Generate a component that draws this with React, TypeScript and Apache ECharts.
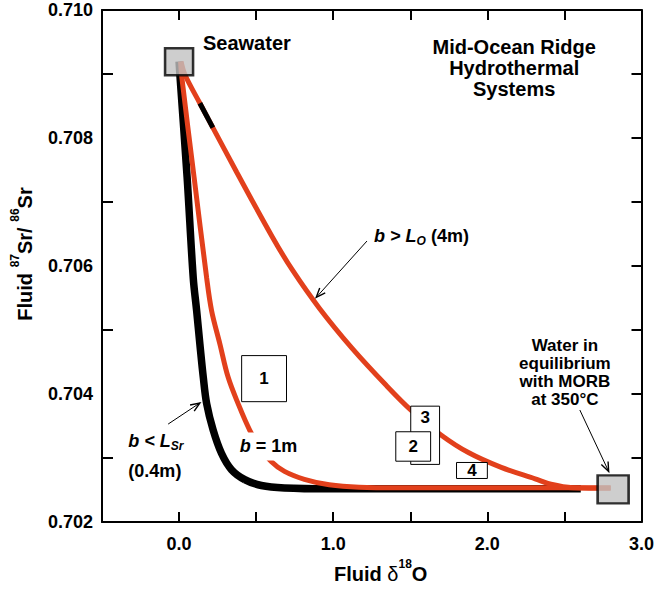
import React, { useEffect, useRef } from "react";
import * as echarts from "echarts";

const FONT = "'Liberation Sans', Arial, Helvetica, sans-serif";
const RED = "#e2401c";

// Axis ticks / labels
const xLabelValues = [0, 1, 2, 3];
const xTickValues = [0, 0.5, 1, 1.5, 2, 2.5];
const yLabelValues = [0.702, 0.704, 0.706, 0.708, 0.71];
const yTickLeftValues = [0.703, 0.705, 0.707, 0.709];
const yTickRightValues = [0.703, 0.704, 0.705, 0.706, 0.707, 0.708, 0.709];

// End members
const seawaterPoint = [0.0, 0.70919];
const morbPoint = [2.816, 0.70251];

// b < L_Sr (0.4 m) curve
const curveLsrX = [0.0, 0.006, 0.052, 0.092, 0.114, 0.135, 0.157, 0.179, 0.221, 0.275, 0.34, 0.426, 0.534, 0.684, 0.974, 2.606];
const curveLsrY = [0.709194, 0.708966, 0.707395, 0.705814, 0.705302, 0.70478, 0.704264, 0.70385, 0.703437, 0.703074, 0.702818, 0.702663, 0.70257, 0.702532, 0.702519, 0.702519];

// b = 1 m curve
const curve1mX = [0.01, 0.017, 0.097, 0.179, 0.211, 0.265, 0.318, 0.383, 0.458, 0.523, 0.598, 0.684, 0.813, 0.974, 1.168, 1.426, 2.8];
const curve1mY = [0.709194, 0.708966, 0.707395, 0.705814, 0.705302, 0.70478, 0.704264, 0.70385, 0.703437, 0.703178, 0.702946, 0.702791, 0.702667, 0.702581, 0.702543, 0.702535, 0.702535];

// b > L_O (4 m) curve
const curve4mX = [0.013, 0.039, 0.135, 0.219, 0.374, 0.606, 0.735, 0.91, 1.123, 1.342, 1.51, 1.697, 1.877, 2.09, 2.31, 2.413, 2.555, 2.8];
const curve4mY = [0.709194, 0.708984, 0.708543, 0.708163, 0.707465, 0.70645, 0.705938, 0.705341, 0.704713, 0.70414, 0.703736, 0.703364, 0.703085, 0.702853, 0.702674, 0.702589, 0.702535, 0.702527];

// black stretch on the 4 m curve
const overlap4mX = [0.135, 0.219];
const overlap4mY = [0.708543, 0.708163];

// numbered boxes (drawn in this order)
const boxLabels = ["1", "3", "2", "4"];
const boxX0 = [0.406, 1.503, 1.406, 1.8];
const boxX1 = [0.697, 1.69, 1.632, 2.0];
const boxY0 = [0.70388, 0.7029, 0.70295, 0.70268];
const boxY1 = [0.7046, 0.70381, 0.70341, 0.70293];
const boxLabelY = [0.70424, 0.70363, 0.70318, 0.7028];

// annotations (data coordinates)
const seawaterLabelPos = [0.155, 0.70949];
const titleLines = ["Mid-Ocean Ridge", "Hydrothermal", "Systems"];
const titlePos = [2.174, 0.70941];
const morbLines = ["Water in", "equilibrium", "with MORB", "at 350°C"];
const morbLabelPos = [2.503, 0.70476];
const label4mPos = [1.265, 0.70647];
const label1mPos = [0.394, 0.70318];
const labelLsrPos = [-0.329, 0.70326];
const labelLsr2Pos = [-0.329, 0.70279];
const arrow4m = [[1.219, 0.70639], [0.89, 0.70551]];
const arrowLsr = [[-0.071, 0.70353], [0.135, 0.70386]];
const arrowMorb = [[2.6, 0.70375], [2.787, 0.70279]];

const pairs = (xs: number[], ys: number[]) => xs.map((x, i) => [x, ys[i]]);

function arrowEls(from: number[], to: number[]) {
  const [x1, y1] = from;
  const [x2, y2] = to;
  const ang = Math.atan2(y2 - y1, x2 - x1);
  const L = 10;
  const a = 0.38;
  const h1 = [x2 - L * Math.cos(ang - a), y2 - L * Math.sin(ang - a)];
  const h2 = [x2 - L * Math.cos(ang + a), y2 - L * Math.sin(ang + a)];
  return [
    { type: "line", shape: { x1, y1, x2, y2 }, style: { stroke: "#000", lineWidth: 1 }, z: 100 },
    { type: "polyline", shape: { points: [h1, [x2, y2], h2] }, style: { stroke: "#000", lineWidth: 1.4, fill: null }, z: 100 },
  ];
}

export default function App() {
  const ref = useRef<HTMLDivElement>(null);
  useEffect(() => {
    if (!ref.current) return;
    const chart = echarts.init(ref.current, null, { renderer: "svg" });
    const lineStyleBase = { type: "line", symbol: "none", smooth: 0.35, silent: true };
    const axisCommonX = {
      type: "value",
      min: -0.5,
      max: 3.0,
      interval: 0.5,
      splitLine: { show: false },
      axisLine: { onZero: false, lineStyle: { color: "#000", width: 2 } },
      axisTick: { inside: true, length: 10, customValues: xTickValues, lineStyle: { color: "#000", width: 2 } },
    };
    const axisCommonY = {
      type: "value",
      min: 0.702,
      max: 0.71,
      interval: 0.001,
      splitLine: { show: false },
      axisLine: { onZero: false, lineStyle: { color: "#000", width: 2 } },
    };
    chart.setOption({
      animation: false,
      grid: { left: 102, right: 14, top: 10, bottom: 63, containLabel: false },
      xAxis: [
        {
          ...axisCommonX,
          position: "bottom",
          axisLabel: {
            customValues: xLabelValues,
            formatter: (v: number) => v.toFixed(1),
            fontFamily: FONT,
            fontSize: 18,
            fontWeight: "bold",
            color: "#000",
            margin: 13,
          },
          name: "{a|Fluid }{d|δ}{s|18}{a|O}",
          nameLocation: "middle",
          nameGap: 36,
          nameTextStyle: {
            padding: [0, 0, 0, 18],
            rich: {
              a: { fontFamily: FONT, fontSize: 20, fontWeight: "bold", color: "#000", lineHeight: 26, verticalAlign: "bottom" },
              d: { fontFamily: FONT, fontSize: 20, color: "#000", lineHeight: 26, verticalAlign: "bottom" },
              s: { fontFamily: FONT, fontSize: 12, fontWeight: "bold", color: "#000", lineHeight: 14, verticalAlign: "top" },
            },
          },
        },
        {
          ...axisCommonX,
          position: "top",
          axisLabel: { show: false },
        },
      ],
      yAxis: [
        {
          ...axisCommonY,
          position: "left",
          axisTick: { inside: true, length: 11, customValues: yTickLeftValues, lineStyle: { color: "#000", width: 2 } },
          axisLabel: {
            customValues: yLabelValues,
            formatter: (v: number) => v.toFixed(3),
            fontFamily: FONT,
            fontSize: 18,
            fontWeight: "bold",
            color: "#000",
            margin: 9,
          },
          name: "{a|Fluid }{s|87}{a|Sr/ }{s|86}{a|Sr}",
          nameLocation: "middle",
          nameGap: 67,
          nameTextStyle: {
            padding: [0, 0, 0, 24],
            rich: {
              a: { fontFamily: FONT, fontSize: 20, fontWeight: "bold", color: "#000", lineHeight: 26, verticalAlign: "bottom" },
              s: { fontFamily: FONT, fontSize: 12, fontWeight: "bold", color: "#000", lineHeight: 14, verticalAlign: "top" },
            },
          },
        },
        {
          ...axisCommonY,
          position: "right",
          axisTick: { inside: true, length: 10, customValues: yTickRightValues, lineStyle: { color: "#000", width: 2 } },
          axisLabel: { show: false },
        },
      ],
      series: [
        { ...lineStyleBase, name: "b < L_Sr (0.4m)", data: pairs(curveLsrX, curveLsrY), lineStyle: { color: "#000", width: 7.5 }, z: 2 },
        { ...lineStyleBase, name: "b = 1m", data: pairs(curve1mX, curve1mY), lineStyle: { color: RED, width: 5 }, z: 3 },
        { ...lineStyleBase, name: "b > L_O (4m)", data: pairs(curve4mX, curve4mY), lineStyle: { color: RED, width: 5 }, z: 3 },
        { ...lineStyleBase, smooth: false, name: "overlap", data: pairs(overlap4mX, overlap4mY), lineStyle: { color: "#000", width: 5 }, z: 4 },
        {
          type: "custom",
          name: "boxes",
          z: 5,
          silent: true,
          data: boxLabels.map((_, i) => [boxX0[i], boxX1[i], boxY0[i], boxY1[i], boxLabelY[i]]),
          renderItem: (params: any, api: any) => {
            const p0 = api.coord([api.value(0), api.value(3)]);
            const p1 = api.coord([api.value(1), api.value(2)]);
            const ly = api.coord([api.value(0), api.value(4)])[1];
            return {
              type: "group",
              children: [
                {
                  type: "rect",
                  shape: { x: p0[0], y: p0[1], width: p1[0] - p0[0], height: p1[1] - p0[1] },
                  style: { fill: "#fff", stroke: "#000", lineWidth: 1 },
                },
                {
                  type: "text",
                  style: {
                    text: boxLabels[params.dataIndex],
                    x: (p0[0] + p1[0]) / 2,
                    y: ly,
                    align: "center",
                    verticalAlign: "middle",
                    fontFamily: FONT,
                    fontSize: 17,
                    fontWeight: "bold",
                    fill: "#000",
                  },
                },
              ],
            };
          },
        },
        {
          type: "scatter",
          name: "Seawater",
          z: 6,
          silent: true,
          symbol: "rect",
          symbolSize: [28, 27],
          data: [seawaterPoint],
          itemStyle: { color: "#c2c2c2", borderColor: "#000", borderWidth: 2.5 },
        },
        {
          type: "scatter",
          name: "MORB",
          z: 6,
          silent: true,
          symbol: "rect",
          symbolSize: [31, 28],
          data: [morbPoint],
          itemStyle: { color: "#c2c2c2", borderColor: "#000", borderWidth: 2.5 },
        },
      ],
    });

    const px = (p: number[]) => chart.convertToPixel({ xAxisIndex: 0, yAxisIndex: 0 }, p) as number[];
    const baseText = { fontFamily: FONT, fontWeight: "bold", fill: "#000" };
    const ital = { fontFamily: FONT, fontWeight: "bold", fontStyle: "italic", fontSize: 18, fill: "#000", lineHeight: 22, verticalAlign: "middle" };
    const norm = { fontFamily: FONT, fontWeight: "bold", fontSize: 18, fill: "#000", lineHeight: 22, verticalAlign: "middle" };
    const sub = { fontFamily: FONT, fontWeight: "bold", fontStyle: "italic", fontSize: 12, fill: "#000", lineHeight: 12, verticalAlign: "bottom" };

    const sw = px(seawaterLabelPos);
    const tt = px(titlePos);
    const mb = px(morbLabelPos);
    const l4 = px(label4mPos);
    const l1 = px(label1mPos);
    const ls = px(labelLsrPos);
    const ls2 = px(labelLsr2Pos);

    const graphic: any[] = [
      { type: "text", x: sw[0], y: sw[1], z: 100, style: { ...baseText, text: "Seawater", fontSize: 20, align: "left", verticalAlign: "middle" } },
      { type: "text", x: tt[0], y: tt[1] - 11, z: 100, style: { ...baseText, text: titleLines.join("\n"), fontSize: 20, lineHeight: 21, align: "center", verticalAlign: "top" } },
      { type: "text", x: mb[0], y: mb[1] - 9, z: 100, style: { ...baseText, text: morbLines.join("\n"), fontSize: 17, lineHeight: 18, align: "center", verticalAlign: "top" } },
      {
        type: "text", x: l4[0], y: l4[1], z: 100,
        style: { text: "{i|b > L}{s|O}{n| (4m)}", align: "left", verticalAlign: "middle", rich: { i: ital, s: sub, n: norm } },
      },
      {
        type: "text", x: l1[0], y: l1[1], z: 100,
        style: { text: "{i|b}{n| = 1m}", align: "left", verticalAlign: "middle", backgroundColor: "#fff", padding: [3, 1, 3, 0], rich: { i: ital, n: norm } },
      },
      {
        type: "text", x: ls[0], y: ls[1], z: 100,
        style: { text: "{i|b < L}{s|Sr}", align: "left", verticalAlign: "middle", rich: { i: ital, s: sub } },
      },
      { type: "text", x: ls2[0], y: ls2[1], z: 100, style: { ...baseText, text: "(0.4m)", fontSize: 18, align: "left", verticalAlign: "middle" } },
      ...arrowEls(px(arrow4m[0]), px(arrow4m[1])),
      ...arrowEls(px(arrowLsr[0]), px(arrowLsr[1])),
      ...arrowEls(px(arrowMorb[0]), px(arrowMorb[1])),
    ];
    chart.setOption({ graphic });

    return () => chart.dispose();
  }, []);
  return <div ref={ref} style={{ width: 657, height: 589, position: "absolute", left: 0, top: 0, background: "#fff" }} />;
}
